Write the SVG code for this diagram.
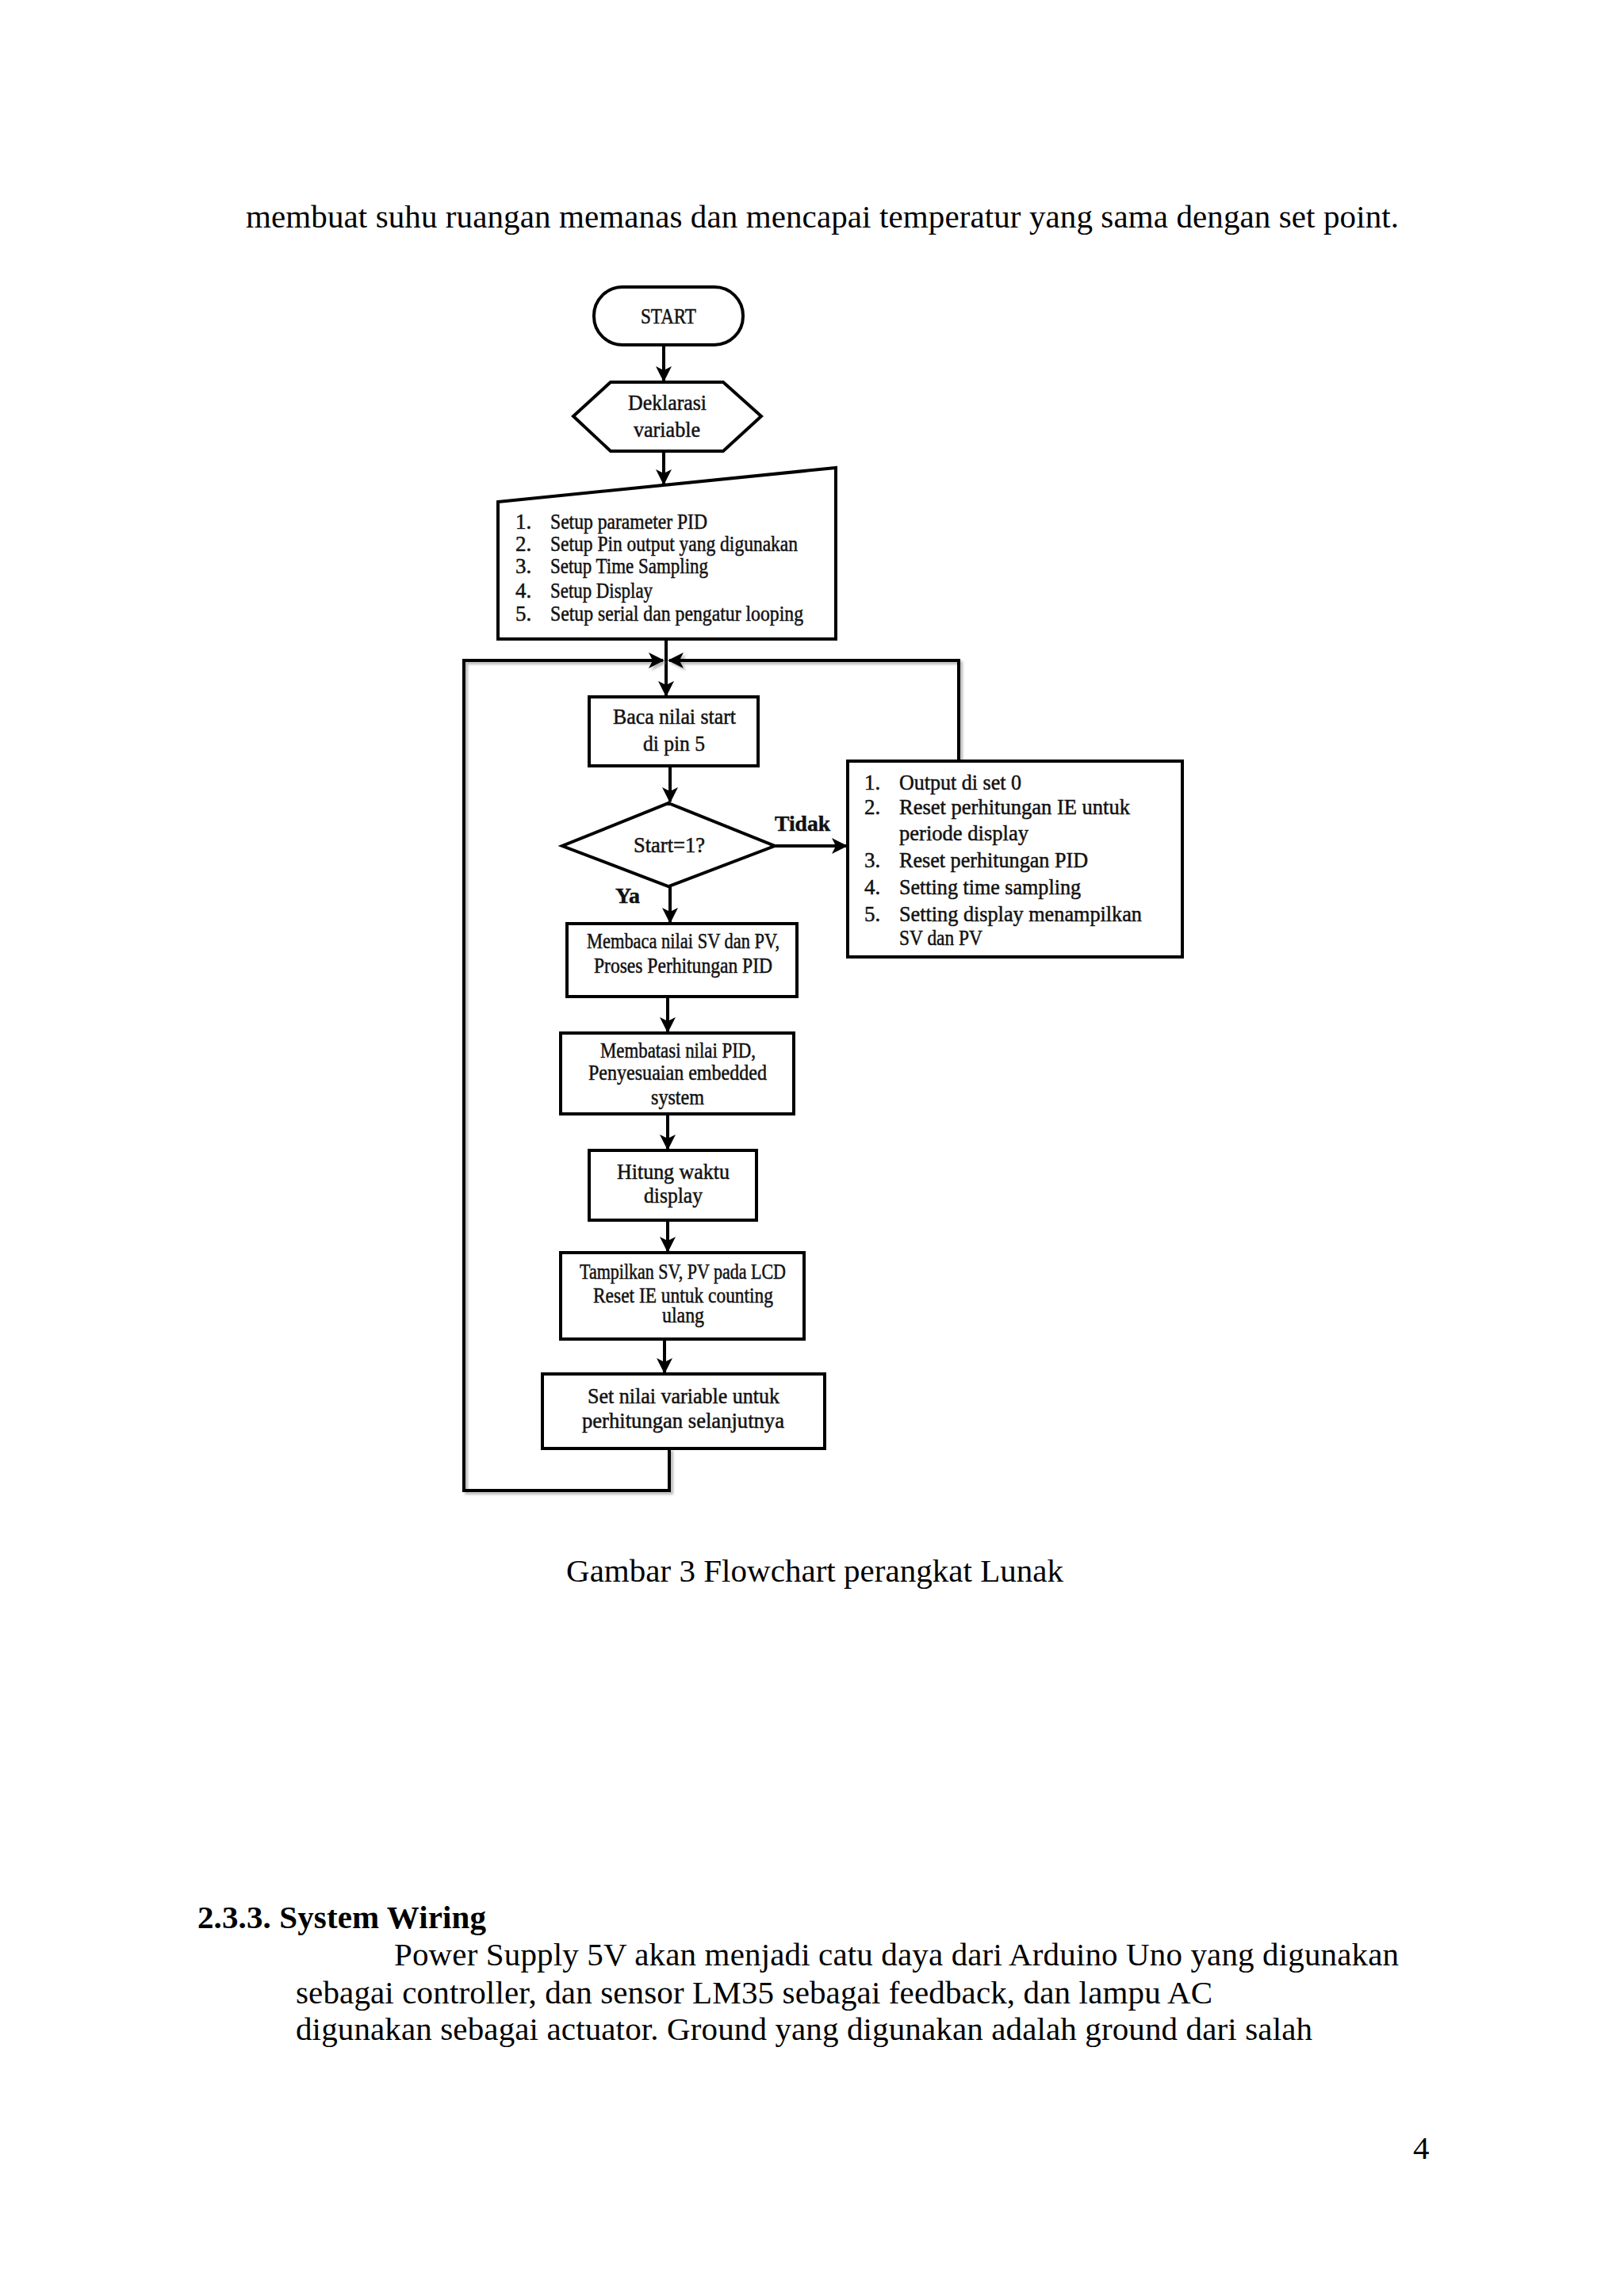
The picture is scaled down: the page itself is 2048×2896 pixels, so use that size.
<svg xmlns="http://www.w3.org/2000/svg" width="2048" height="2896" viewBox="0 0 2048 2896">
<style>
.pg{font-family:"Liberation Serif","Times New Roman",serif;font-size:41px;fill:#000}
.ft{font-family:"Liberation Serif","Times New Roman",serif;font-size:27px;fill:#111;stroke:#111;stroke-width:0.5}
.b{font-weight:bold}
.box{fill:#fff;stroke:#000;stroke-width:4}
.ln{fill:none;stroke:#000;stroke-width:4}
</style>
<defs>
<marker id="ah" viewBox="0 0 20 20" refX="18" refY="10" markerWidth="20" markerHeight="20" markerUnits="userSpaceOnUse" orient="auto">
<path d="M0,0 L20,10 L0,20 L5,10 z" fill="#000"/>
</marker>
<filter id="sh" x="-5%" y="-5%" width="110%" height="110%">
<feDropShadow dx="3" dy="3" stdDeviation="1.5" flood-color="#888" flood-opacity="0.6"/>
</filter>
</defs>
<rect width="2048" height="2896" fill="#fff"/>

<text class="pg" x="310" y="287" textLength="1454" lengthAdjust="spacing">membuat suhu ruangan memanas dan mencapai temperatur yang sama dengan set point.</text>

<g id="connectors">
<path class="ln" d="M837,435 V480" marker-end="url(#ah)"/>
<path class="ln" d="M837,569 V610" marker-end="url(#ah)"/>
<path class="ln" d="M840,806 V877" marker-end="url(#ah)"/>
<g filter="url(#sh)">
<path class="ln" d="M844,1827 V1880 H585 V833 H836" marker-end="url(#ah)"/>
<path class="ln" d="M1209,960 V833 H844" marker-end="url(#ah)"/>
</g>
<path class="ln" d="M845,966 V1011" marker-end="url(#ah)"/>
<path class="ln" d="M977,1067 H1067" marker-end="url(#ah)"/>
<path class="ln" d="M845,1118 V1163" marker-end="url(#ah)"/>
<path class="ln" d="M842,1257 V1301" marker-end="url(#ah)"/>
<path class="ln" d="M842,1405 V1449" marker-end="url(#ah)"/>
<path class="ln" d="M842,1539 V1578" marker-end="url(#ah)"/>
<path class="ln" d="M838,1689 V1731" marker-end="url(#ah)"/>
<text class="ft b" x="977" y="1048" textLength="70" lengthAdjust="spacingAndGlyphs">Tidak</text>
<text class="ft b" x="776" y="1139" textLength="31" lengthAdjust="spacingAndGlyphs">Ya</text>
</g>

<g id="start">
<rect class="box" x="749" y="362" width="188" height="73" rx="36"/>
<text class="ft" x="808" y="408" textLength="70" lengthAdjust="spacingAndGlyphs">START</text>
</g>

<g id="deklarasi">
<polygon class="box" points="723,525 770,482 912,482 960,525 912,569 770,569"/>
<text class="ft" x="792" y="517" textLength="99" lengthAdjust="spacingAndGlyphs">Deklarasi</text>
<text class="ft" x="799" y="551" textLength="84" lengthAdjust="spacingAndGlyphs">variable</text>
</g>

<g id="setup">
<polygon class="box" points="628,633 1054,590 1054,806 628,806"/>
<text class="ft" x="650" y="667">1.</text>
<text class="ft" x="650" y="695">2.</text>
<text class="ft" x="650" y="723">3.</text>
<text class="ft" x="650" y="754">4.</text>
<text class="ft" x="650" y="783">5.</text>
<text class="ft" x="694" y="667" textLength="198" lengthAdjust="spacingAndGlyphs">Setup parameter PID</text>
<text class="ft" x="694" y="695" textLength="312" lengthAdjust="spacingAndGlyphs">Setup Pin output yang digunakan</text>
<text class="ft" x="694" y="723" textLength="199" lengthAdjust="spacingAndGlyphs">Setup Time Sampling</text>
<text class="ft" x="694" y="754" textLength="129" lengthAdjust="spacingAndGlyphs">Setup Display</text>
<text class="ft" x="694" y="783" textLength="319" lengthAdjust="spacingAndGlyphs">Setup serial dan pengatur looping</text>
</g>

<g id="baca">
<rect class="box" x="743" y="879" width="213" height="87"/>
<text class="ft" x="773" y="913" textLength="155" lengthAdjust="spacingAndGlyphs">Baca nilai start</text>
<text class="ft" x="811" y="947" textLength="78" lengthAdjust="spacingAndGlyphs">di pin 5</text>
</g>

<g id="decision">
<polygon class="box" points="843,1013 977,1067 843,1118 709,1067"/>
<text class="ft" x="799" y="1075" textLength="90" lengthAdjust="spacingAndGlyphs">Start=1?</text>
</g>

<g id="reset">
<rect class="box" x="1069" y="960" width="422" height="247"/>
<text class="ft" x="1090" y="996">1.</text>
<text class="ft" x="1090" y="1027">2.</text>
<text class="ft" x="1090" y="1094">3.</text>
<text class="ft" x="1090" y="1128">4.</text>
<text class="ft" x="1090" y="1162">5.</text>
<text class="ft" x="1134" y="996" textLength="154" lengthAdjust="spacingAndGlyphs">Output di set 0</text>
<text class="ft" x="1134" y="1027" textLength="291" lengthAdjust="spacingAndGlyphs">Reset perhitungan IE untuk</text>
<text class="ft" x="1134" y="1060" textLength="163" lengthAdjust="spacingAndGlyphs">periode display</text>
<text class="ft" x="1134" y="1094" textLength="238" lengthAdjust="spacingAndGlyphs">Reset perhitungan PID</text>
<text class="ft" x="1134" y="1128" textLength="229" lengthAdjust="spacingAndGlyphs">Setting time sampling</text>
<text class="ft" x="1134" y="1162" textLength="306" lengthAdjust="spacingAndGlyphs">Setting display menampilkan</text>
<text class="ft" x="1134" y="1192" textLength="105" lengthAdjust="spacingAndGlyphs">SV dan PV</text>
</g>

<g id="membaca">
<rect class="box" x="715" y="1165" width="290" height="92"/>
<text class="ft" x="740" y="1196" textLength="243" lengthAdjust="spacingAndGlyphs">Membaca nilai SV dan PV,</text>
<text class="ft" x="749" y="1227" textLength="225" lengthAdjust="spacingAndGlyphs">Proses Perhitungan PID</text>
</g>

<g id="membatasi">
<rect class="box" x="707" y="1303" width="294" height="102"/>
<text class="ft" x="757" y="1334" textLength="196" lengthAdjust="spacingAndGlyphs">Membatasi nilai PID,</text>
<text class="ft" x="742" y="1362" textLength="225" lengthAdjust="spacingAndGlyphs">Penyesuaian embedded</text>
<text class="ft" x="821" y="1393" textLength="67" lengthAdjust="spacingAndGlyphs">system</text>
</g>

<g id="hitung">
<rect class="box" x="743" y="1451" width="211" height="88"/>
<text class="ft" x="778" y="1487" textLength="142" lengthAdjust="spacingAndGlyphs">Hitung waktu</text>
<text class="ft" x="812" y="1517" textLength="74" lengthAdjust="spacingAndGlyphs">display</text>
</g>

<g id="tampilkan">
<rect class="box" x="707" y="1580" width="307" height="109"/>
<text class="ft" x="731" y="1613" textLength="260" lengthAdjust="spacingAndGlyphs">Tampilkan SV, PV pada LCD</text>
<text class="ft" x="748" y="1643" textLength="227" lengthAdjust="spacingAndGlyphs">Reset IE untuk counting</text>
<text class="ft" x="835" y="1668" textLength="53" lengthAdjust="spacingAndGlyphs">ulang</text>
</g>

<g id="setnilai">
<rect class="box" x="684" y="1733" width="356" height="94"/>
<text class="ft" x="741" y="1770" textLength="242" lengthAdjust="spacingAndGlyphs">Set nilai variable untuk</text>
<text class="ft" x="734" y="1801" textLength="255" lengthAdjust="spacingAndGlyphs">perhitungan selanjutnya</text>
</g>

<text class="pg" x="714" y="1995" textLength="627" lengthAdjust="spacing">Gambar 3 Flowchart perangkat Lunak</text>

<text class="pg b" x="249" y="2432" textLength="364" lengthAdjust="spacing">2.3.3. System Wiring</text>
<text class="pg" x="497" y="2479" textLength="1267" lengthAdjust="spacing">Power Supply 5V akan menjadi catu daya dari Arduino Uno yang digunakan</text>
<text class="pg" x="373" y="2527" textLength="1156" lengthAdjust="spacing">sebagai controller, dan sensor LM35 sebagai feedback, dan lampu AC</text>
<text class="pg" x="373" y="2573" textLength="1282" lengthAdjust="spacing">digunakan sebagai actuator. Ground yang digunakan adalah ground dari salah</text>
<text class="pg" x="1782" y="2723">4</text>
</svg>
